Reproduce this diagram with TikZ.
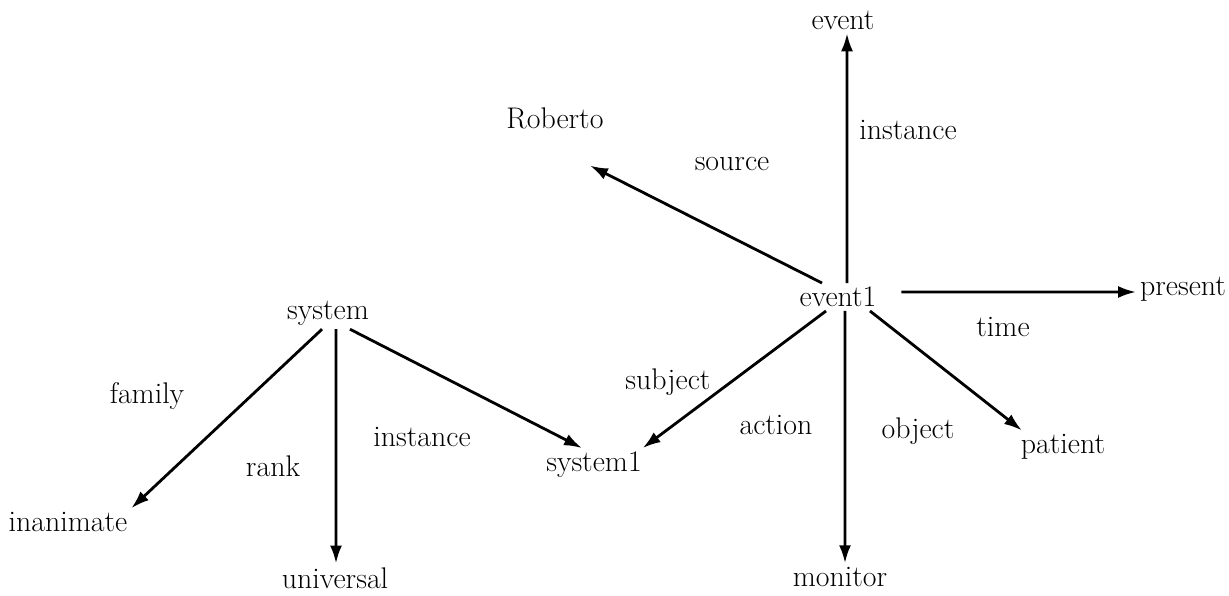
\documentclass[tikz,border=0pt]{standalone}
\usetikzlibrary{arrows.meta}
\begin{document}
\begin{tikzpicture}[x=0.02cm,y=-0.02cm,
  every node/.style={font=\fontsize{17}{20}\selectfont},
  concept/.style={inner sep=0.08cm, outer sep=0pt},
  rel/.style={inner sep=0pt},
  link/.style={line width=1.6pt, -{Latex[length=0.36cm,width=0.24cm]}}]
\useasboundingbox (0,0) rectangle (1229,595);

% concepts
\node[concept] (event)     at (843,20)   {event};
\node[concept] (Roberto)   at (555,118)  {Roberto};
\node[concept] (event1)    at (838,297)  {event1};
\node[concept] (present)   at (1183,289) {present};
\node[concept] (system)    at (328,313)  {system};
\node[concept] (patient)   at (1063,447) {patient};
\node[concept] (system1)   at (594,465)  {system1};
\node[concept] (inanimate) at (68,522)   {inanimate};
\node[concept] (universal) at (335,578)  {universal};
\node[concept] (monitor)   at (840,577)  {monitor};

% relation labels
\node[rel] (l-inst1)  at (908,130) {instance};
\node[rel] (l-source) at (732,164) {source};
\node[rel] (l-time)   at (1003,327) {time};
\node[rel] (l-subj)   at (668,382) {subject};
\node[rel] (l-action) at (776,425) {action};
\node[rel] (l-object) at (918,431) {object};
\node[rel] (l-family) at (147,396) {family};
\node[rel] (l-rank)   at (273,466) {rank};
\node[rel] (l-inst2)  at (422,437) {instance};

% links out of event1
\draw[link] ([xshift=0.18cm]event1.north) -- ([xshift=0.08cm]event.south);
\draw[link] ([xshift=-0.32cm]event1.north) -- ([xshift=0.7cm,yshift=-0.66cm]Roberto.south);
\draw[link] ([xshift=0.42cm,yshift=0.1cm]event1.east) -- ([yshift=-0.06cm]present.west);
\draw[link] ([xshift=-0.24cm]event1.south) -- ([xshift=-0.06cm]system1.north east);
\draw[link] ([xshift=0.14cm]event1.south) -- ([xshift=0.1cm]monitor.north);
\draw[link] ([xshift=0.64cm]event1.south) -- ([xshift=0.1cm]patient.north west);

% links out of system
\draw[link] ([xshift=-0.12cm]system.south) -- (inanimate.north east);
\draw[link] ([xshift=0.16cm]system.south) -- ([xshift=0.02cm]universal.north);
\draw[link] ([xshift=0.44cm]system.south) -- ([xshift=-0.24cm]system1.north);
\end{tikzpicture}
\end{document}
